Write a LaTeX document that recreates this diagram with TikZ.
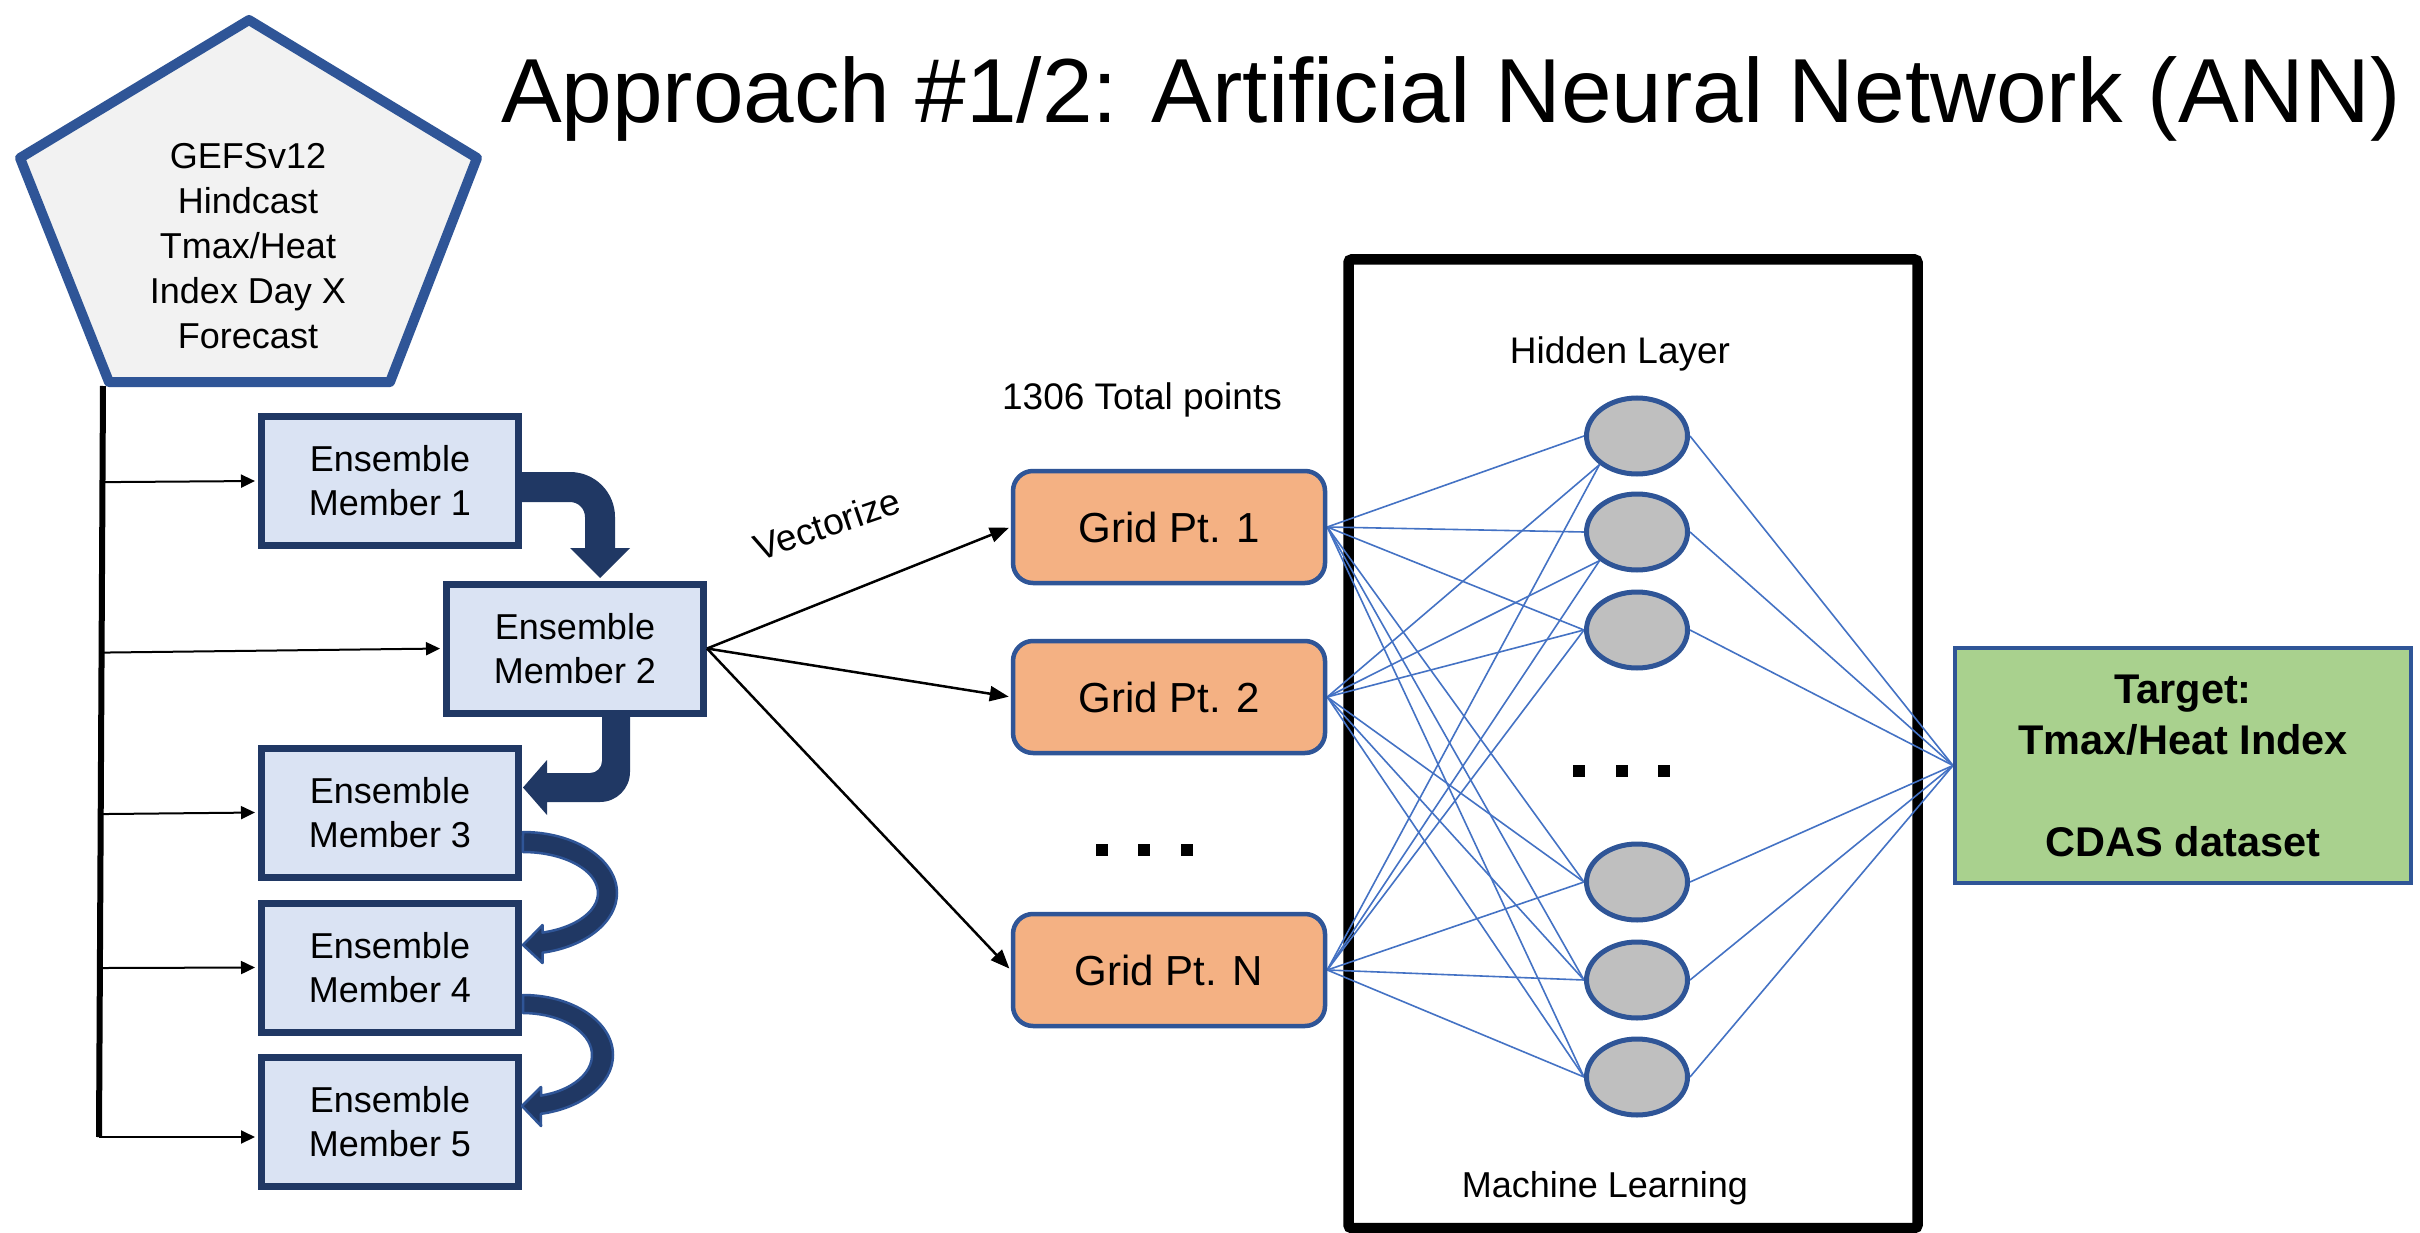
\documentclass[tikz,border=0pt]{standalone}
\usepackage{fontspec}
\setmainfont{Liberation Sans}
\usetikzlibrary{arrows.meta,calc,shapes.geometric}
\definecolor{navy}{HTML}{203864}
\definecolor{midblue}{HTML}{2F5597}
\definecolor{linkblue}{HTML}{4472C4}
\definecolor{boxfill}{HTML}{DAE3F3}
\definecolor{pentfill}{HTML}{F2F2F2}
\definecolor{gridfill}{HTML}{F4B183}
\definecolor{hidfill}{HTML}{BFBFBF}
\definecolor{tgtfill}{HTML}{A9D18E}
\pgfdeclarelayer{bg}
\pgfsetlayers{bg,main}
\begin{document}
\begin{tikzpicture}[x=1pt,y=-1pt,
  ensbox/.style={draw=navy,line width=7pt,fill=boxfill,minimum width=257pt,minimum height=129pt,inner sep=0pt,align=center,font=\fontsize{36}{44}\selectfont},
  gridbox/.style={draw=midblue,line width=4.5pt,fill=gridfill,rounded corners=20pt,minimum width=312pt,minimum height=112pt,inner sep=0pt,font=\fontsize{42}{50}\selectfont},
  hid/.style={ellipse,draw=midblue,line width=5pt,fill=hidfill,minimum width=101pt,minimum height=76pt,inner sep=0pt},
  link/.style={draw=linkblue,line width=1.6pt},
  feed/.style={draw=black,line width=2pt,shorten >=3pt,-{Triangle[length=14pt,width=13pt]}},
  vec/.style={draw=black,line width=2.5pt,shorten >=2pt,-{Triangle[length=19pt,width=15pt]}},
  blockarrow/.style={fill=navy},
  curvearrow/.style={fill=navy,draw=midblue,line width=2.5pt,line join=round},
  dotsq/.style={fill=black,minimum size=12.5pt,inner sep=0pt},
  lbl/.style={font=\fontsize{37}{44}\selectfont}
]
\useasboundingbox (0,0) rectangle (2420,1233);
\begin{pgfonlayer}{bg}
\fill[white] (0,0) rectangle (2420,1233);
% machine learning box
\node[draw=black,line width=10.5pt,rounded corners=3pt,minimum width=569pt,minimum height=968.5pt,inner sep=0pt] (mlbox) at (1633,743.75) {};
\end{pgfonlayer}

% title
\node[anchor=base,font=\fontsize{91}{100}\selectfont,inner sep=0pt] (title) at (1451,123) {Approach \#1/2: Artificial Neural Network (ANN)};

% pentagon
\path[draw=midblue,line width=10pt,fill=pentfill,line join=round] (249,20) -- (477,158) -- (390,382) -- (109,382) -- (20,158) -- cycle;
\node[align=center,font=\fontsize{36}{45}\selectfont] (gefs) at (248,246) {GEFSv12\\Hindcast\\Tmax/Heat\\Index Day X\\Forecast};

% ensemble members
\node[ensbox] (em1) at (390,481) {Ensemble\\Member 1};
\node[ensbox] (em2) at (575,648.5) {Ensemble\\Member 2};
\node[ensbox] (em3) at (390,812.5) {Ensemble\\Member 3};
\node[ensbox] (em4) at (390,967.5) {Ensemble\\Member 4};
\node[ensbox] (em5) at (390,1121.5) {Ensemble\\Member 5};

% vertical bar and feed arrows
\coordinate (barTop) at (103,386);
\coordinate (barBot) at (99,1137);
\draw[line width=6pt] (barTop) -- (barBot);
\draw[feed] ($(barTop)!0.128!(barBot)$) -- (em1.west);
\draw[feed] ($(barTop)!0.355!(barBot)$) -- (em2.west);
\draw[feed] ($(barTop)!0.570!(barBot)$) -- (em3.west);
\draw[feed] ($(barTop)!0.775!(barBot)$) -- (em4.west);
\draw[feed] (barBot) -- (barBot -| em5.west);

% block arrows between members
\fill[blockarrow] (522,472) -- (570,472) arc[start angle=-90,end angle=0,radius=45]
  -- (615,548) -- (630,548) -- (600,578) -- (570,548) -- (585,548) -- (585,517)
  arc[start angle=0,end angle=-90,radius=15] -- (522,502) -- cycle;
\fill[blockarrow] (630,717) -- (630,772) arc[start angle=0,end angle=90,radius=30]
  -- (547,802) -- (547,815) -- (523,787.5) -- (547,760) -- (547,773) -- (590,773)
  arc[start angle=90,end angle=0,radius=12] -- (602,717) -- cycle;
\path[curvearrow] (523,832) arc[start angle=-90,end angle=78,x radius=94,y radius=61]
  -- (542.5,963) -- (523,945) -- (542.5,925) -- (542.5,932.6)
  arc[start angle=74.9,end angle=-90,x radius=75,y radius=41] -- cycle;
\path[curvearrow] (523,995) arc[start angle=-90,end angle=78.5,x radius=90,y radius=60]
  -- (541,1126) -- (522,1106) -- (541,1087) -- (541,1095.6)
  arc[start angle=74.9,end angle=-90,x radius=69,y radius=42] -- cycle;

% grid points
\node[lbl,anchor=base] (total) at (1142,409) {1306 Total points};
\node[gridbox] (g1) at (1169,527) {Grid Pt. 1};
\node[gridbox] (g2) at (1169,697) {Grid Pt. 2};
\node[gridbox] (gn) at (1169,970) {Grid Pt. N};
\node[dotsq] (gd1) at (1102,850) {};
\node[dotsq] (gd2) at (1144,850) {};
\node[dotsq] (gd3) at (1187,850) {};

% vectorize arrows
\draw[vec] (em2.east) -- (g1.west);
\draw[vec] (em2.east) -- (g2.west);
\draw[vec] (em2.east) -- (gn.west);
\node[lbl,rotate=19] (veclbl) at (827,524) {Vectorize};

\node[lbl,anchor=base] (hidlbl) at (1620,363) {Hidden Layer};
\node[font=\fontsize{36}{44}\selectfont,anchor=base] (mllbl) at (1605,1197) {Machine Learning};

% hidden layer
\node[hid] (h1) at (1637,436) {};
\node[hid] (h2) at (1637,532) {};
\node[hid] (h3) at (1637,630) {};
\node[hid] (h4) at (1637,882) {};
\node[hid] (h5) at (1637,980) {};
\node[hid] (h6) at (1637,1077) {};
\node[dotsq] (hd1) at (1579,771) {};
\node[dotsq] (hd2) at (1622,771) {};
\node[dotsq] (hd3) at (1664,771) {};

% target
\node[draw=midblue,line width=4pt,fill=tgtfill,minimum width=456pt,minimum height=235pt,inner sep=0pt,align=center,font=\bfseries\fontsize{41.5}{51}\selectfont] (tgt) at (2183,765.5) {Target:\\Tmax/Heat Index\\\mbox{}\\CDAS dataset};

% links (behind nodes, over the box frame)
\begin{pgfonlayer}{bg}
\foreach \h in {h1,h2,h3,h4,h5,h6} \draw[link] (g1.east) -- (\h.west);
\foreach \g in {g2,gn} {
  \draw[link] (\g.east) -- (h1.south west);
  \draw[link] (\g.east) -- (h2.south west);
  \foreach \h in {h3,h4,h5,h6} \draw[link] (\g.east) -- (\h.west);
}
\foreach \h in {h1,h2,h3,h4,h5,h6} \draw[link] (\h.east) -- (tgt.west);
\end{pgfonlayer}
\end{tikzpicture}
\end{document}
